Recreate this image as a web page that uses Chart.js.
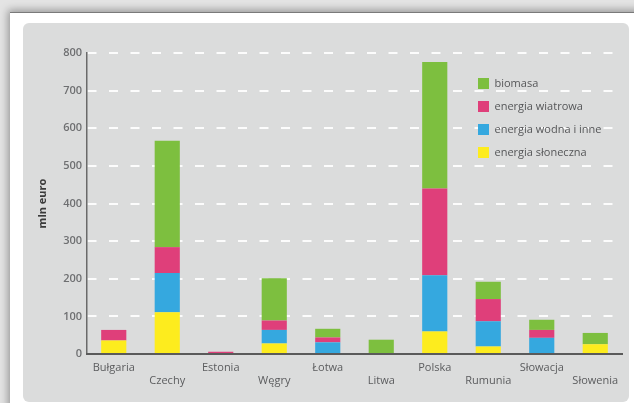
<!DOCTYPE html>
<html>
<head>
<meta charset="utf-8">
<script src="https://cdn.jsdelivr.net/npm/chart.js@4/dist/chart.umd.min.js"></script>
<style>
    html, body { margin: 0; padding: 0; }
    body { width: 634px; height: 403px; overflow: hidden; position: relative; background: #e4e4e4; }
    #frame { position: absolute; left: 10px; top: 12px; width: 640px; height: 400px; background: #fff;
             border-top: 1px solid #7a7a7a; box-shadow: -2px -2px 8px rgba(0,0,0,0.35); }
    #panel { position: absolute; left: 23px; top: 23px; width: 606px; height: 379px; background: #dbdcdc;
             border-radius: 6px; }
    #chart { position: absolute; left: 0; top: 0; }
</style>
</head>
<body>
<div id="frame"></div>
<div id="panel"></div>
<canvas id="chart" width="634" height="403"></canvas>
<script>
// Values in mln euro
const categories = ['Bułgaria', 'Czechy', 'Estonia', 'Węgry', 'Łotwa', 'Litwa', 'Polska', 'Rumunia', 'Słowacja', 'Słowenia'];
const sloneczna = [36, 111, 2, 28, 0, 0, 60, 20, 0, 26];
const wodna = [0, 104, 0, 36, 31, 0, 149, 67, 43, 0];
const wiatrowa = [28, 69, 4, 25, 13, 0, 231, 59, 21, 0];
const biomasa = [0, 283, 0, 112, 23, 38, 336, 46, 27, 30];
const yTicks = [0, 100, 200, 300, 400, 500, 600, 700, 800];

const textFont = "'Open Sans', 'DejaVu Sans', sans-serif";

// put the legend inside the plot, upper right
const legendMover = {
    id: 'legendMover',
    afterLayout(chart) {
        const lg = chart.legend;
        lg.left = 466;
        lg.top = 66;
        lg.right = lg.left + lg.width;
        lg.bottom = lg.top + lg.height;
    }
};

const ctx = document.getElementById('chart').getContext('2d');
new Chart(ctx, {
    type: 'bar',
    data: {
        labels: categories,
        datasets: [
            { label: 'energia słoneczna', data: sloneczna, backgroundColor: '#fdec1e' },
            { label: 'energia wodna i inne', data: wodna, backgroundColor: '#35a8df' },
            { label: 'energia wiatrowa', data: wiatrowa, backgroundColor: '#df3f7a' },
            { label: 'biomasa', data: biomasa, backgroundColor: '#7dbf3f' }
        ]
    },
    options: {
        responsive: false,
        animation: false,
        layout: { padding: { left: 0, top: 53, right: 12, bottom: 9 } },
        datasets: { bar: { barPercentage: 0.47, categoryPercentage: 1, borderWidth: 0 } },
        scales: {
            x: {
                stacked: true,
                afterFit: s => { s.height = 40; },
                grid: { display: false, drawTicks: false },
                border: { display: true, color: '#5a5a5a', width: 2, z: 1 },
                ticks: {
                    autoSkip: false,
                    maxRotation: 0,
                    padding: 7.5,
                    color: '#5b5c5e',
                    font: { family: textFont, size: 11, lineHeight: 1.18 },
                    callback: function (value, index) {
                        const name = this.getLabelForValue(value);
                        return index % 2 ? ['', name] : name;
                    }
                }
            },
            y: {
                stacked: true,
                min: 0,
                max: 800,
                afterFit: s => { s.width = 87; },
                afterBuildTicks: s => { s.ticks = yTicks.map(v => ({ value: v })); },
                grid: { color: 'rgba(255,255,255,0.9)', lineWidth: 2, drawTicks: false },
                border: { display: true, color: '#6a6a6a', width: 1.5, dash: [9, 12.5] },
                ticks: {
                    padding: 5,
                    color: '#6e6f71',
                    font: { family: textFont, size: 11, weight: '600' }
                },
                title: {
                    display: true,
                    text: 'mln euro',
                    color: '#3a3a3a',
                    padding: { top: 36, bottom: 0 },
                    font: { family: textFont, size: 11, weight: 'bold' }
                }
            }
        },
        plugins: {
            legend: {
                position: 'chartArea',
                align: 'start',
                reverse: true,
                labels: {
                    boxWidth: 11,
                    boxHeight: 11,
                    padding: 12,
                    color: '#555658',
                    font: { family: textFont, size: 11 }
                }
            },
            tooltip: { enabled: false }
        }
    },
    plugins: [legendMover]
});
</script>
</body>
</html>
